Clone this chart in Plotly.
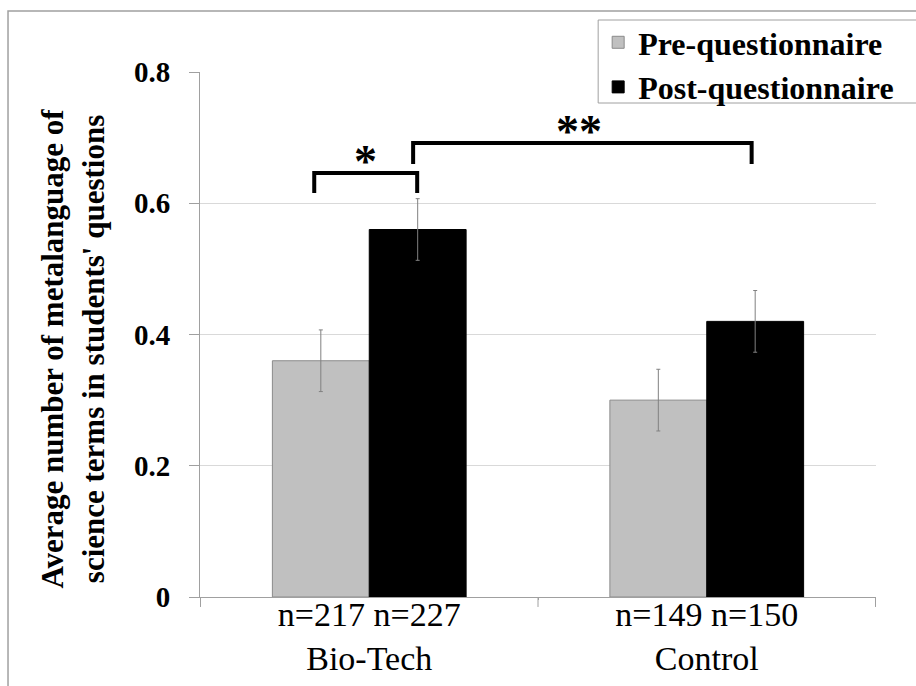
import plotly.graph_objects as go

groups = ["Bio-Tech", "Control"]
n_pre = [217, 149]
n_post = [227, 150]
pre_vals = [0.36, 0.30]
post_vals = [0.56, 0.42]
pre_err = [0.047, 0.047]
post_err = [0.047, 0.047]
tick_labels = [f"n={a} n={b}<br>{g}" for a, b, g in zip(n_pre, n_post, groups)]

FONT = "Liberation Serif"

fig = go.Figure()
fig.add_trace(go.Bar(
    name="<b>Pre-questionnaire</b>", x=groups, y=pre_vals,
    marker=dict(color="#c0c0c0", line=dict(color="#8a8a8a", width=1)),
    error_y=dict(type="data", array=pre_err, color="#808080", thickness=1, width=2),
))
fig.add_trace(go.Bar(
    name="<b>Post-questionnaire</b>", x=groups, y=post_vals,
    marker=dict(color="#000000", line=dict(color="#000000", width=1)),
    error_y=dict(type="data", array=post_err, color="#808080", thickness=1, width=2),
))

# significance brackets
brackets = [(-0.163, 0.142, 0.6156, 0.646), (0.130, 1.133, 0.660, 0.692)]
for x0, x1, yb, yt in brackets:
    fig.add_shape(type="path", xref="x", yref="y",
                  path=f"M {x0},{yb} L {x0},{yt} L {x1},{yt} L {x1},{yb}",
                  line=dict(color="black", width=4))
fig.add_annotation(x=-0.01, y=0.663, xref="x", yref="y", text="<b>*</b>", showarrow=False,
                   font=dict(family=FONT, size=46, color="black"), xanchor="center", yanchor="middle")
fig.add_annotation(x=0.62, y=0.710, xref="x", yref="y", text="<b>**</b>", showarrow=False,
                   font=dict(family=FONT, size=46, color="black"), xanchor="center", yanchor="middle")

# y-axis title as annotation
fig.add_annotation(x=-0.188, y=0.473, xref="paper", yref="paper",
                   text="<b>Average number of metalanguage of<br>science terms in students' questions</b>",
                   textangle=-90, showarrow=False, xanchor="center", yanchor="middle",
                   font=dict(family=FONT, size=31, color="black"))

# category boundary tick marks on the x axis
for xb in [-0.5, 0.5, 1.5]:
    fig.add_shape(type="line", xref="x", yref="paper", x0=xb, x1=xb, y0=0, y1=-0.019,
                  line=dict(color="#a0a0a0", width=1))

# outer frame
fig.add_shape(type="rect", xref="paper", yref="paper", x0=-0.284, x1=1.2, y0=-0.4, y1=1.116,
              line=dict(color="#a0a0a0", width=1.5), fillcolor="rgba(0,0,0,0)", layer="below")
# legend box
fig.add_shape(type="rect", xref="paper", yref="paper", x0=0.589, x1=1.08,
              y0=(597 - 103) / 525, y1=(597 - 20) / 525,
              line=dict(color="#a0a0a0", width=1), fillcolor="white", layer="above")

fig.update_layout(
    width=916, height=686,
    margin=dict(l=200, r=40, t=72, b=89),
    paper_bgcolor="white", plot_bgcolor="white",
    barmode="group", bargap=0.426, bargroupgap=0,
    font=dict(family=FONT, color="black"),
    showlegend=True,
    legend=dict(x=0.589, y=1.1086, xanchor="left", yanchor="top",
                borderwidth=0, bgcolor="rgba(0,0,0,0)",
                font=dict(family=FONT, size=32, color="black"),
                traceorder="normal", tracegroupgap=0),
    xaxis=dict(tickmode="array", tickvals=groups, ticktext=tick_labels,
               tickfont=dict(family=FONT, size=34, color="black"),
               showline=True, linecolor="#a0a0a0", linewidth=1,
               ticks="outside", tickson="boundaries", ticklen=2, tickcolor="#a0a0a0",
               ticklabelstandoff=-13, automargin=False, showgrid=False),
    yaxis=dict(range=[0, 0.8], dtick=0.2, tick0=0,
               tickfont=dict(family=FONT, size=29, color="black"),
               showline=True, linecolor="#a0a0a0", linewidth=1,
               ticks="outside", ticklen=10, tickcolor="#a0a0a0",
               ticklabelstandoff=13, automargin=False,
               showgrid=True, gridcolor="#d9d9d9", gridwidth=1,
               zeroline=False),
)
fig.update_yaxes(tickprefix="<b>", ticksuffix="</b>")
fig.write_html("out.html")
